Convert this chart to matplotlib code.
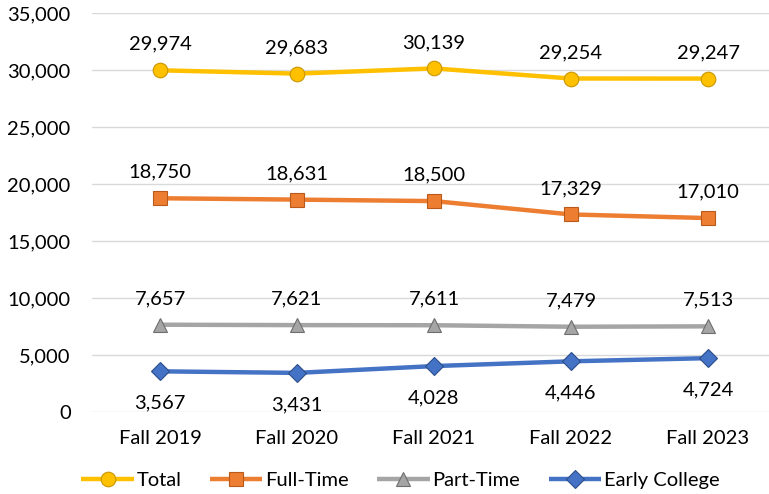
import matplotlib
matplotlib.use("Agg")
import matplotlib.pyplot as plt
from matplotlib.ticker import FuncFormatter

categories = ["Fall 2019", "Fall 2020", "Fall 2021", "Fall 2022", "Fall 2023"]
total = [29974, 29683, 30139, 29254, 29247]
full_time = [18750, 18631, 18500, 17329, 17010]
part_time = [7657, 7621, 7611, 7479, 7513]
early_college = [3567, 3431, 4028, 4446, 4724]
y_ticks = [0, 5000, 10000, 15000, 20000, 25000, 30000, 35000]

plt.rcParams['font.family'] = ['Lato', 'DejaVu Sans']

W, H = 769, 494
fig = plt.figure(figsize=(W / 100, H / 100), dpi=100)
ax = fig.add_axes([91.5 / W, 1 - 412 / H, 1 - 91.5 / W, (412 - 13) / H])

FS = 14.5
x = list(range(len(categories)))
series = [
    ("Total", total, "#FFC000", "o", "#C89600", 1),
    ("Full-Time", full_time, "#ED7D31", "s", "#B85A1B", 1),
    ("Part-Time", part_time, "#A5A5A5", "^", "#6E6E6E", 1),
    ("Early College", early_college, "#4472C4", "D", "#2B4E8C", -1),
]
for name, vals, col, mk, edge, side in series:
    ms = 10.5 if mk != "D" else 9
    ax.plot(x, vals, color=col, lw=3.2, marker=mk, markersize=ms,
            markerfacecolor=col, markeredgecolor=edge, markeredgewidth=0.8,
            label=name, zorder=3, solid_capstyle='butt')
    for xi, v in zip(x, vals):
        off = 26 if side > 0 else -32
        ax.annotate(f"{v:,}", (xi, v), xytext=(0, off), textcoords="offset pixels",
                    ha="center", va="center", fontsize=FS, color="#000000")

ax.set_xlim(-0.5, (W - 160) / 137)
ax.set_ylim(0, 35000)
ax.set_yticks(y_ticks)
ax.yaxis.set_major_formatter(FuncFormatter(lambda v, p: f"{int(v):,}"))
ax.set_xticks(x)
ax.set_xticklabels(categories)
ax.tick_params(axis="both", length=0, labelsize=FS, colors="#000000")
ax.tick_params(axis="x", pad=13)
ax.tick_params(axis="y", pad=15)
ax.grid(axis="y", color="#D9D9D9", lw=1)
ax.set_axisbelow(True)
for s in ax.spines.values():
    s.set_visible(False)

fig.legend(loc="center", bbox_to_anchor=(0.5 + 16 / W, 1 - 480 / H), ncol=4, frameon=False,
           fontsize=FS, handlelength=2.6, columnspacing=1.4, handletextpad=0.15)

fig.savefig("out.png", dpi=100)
